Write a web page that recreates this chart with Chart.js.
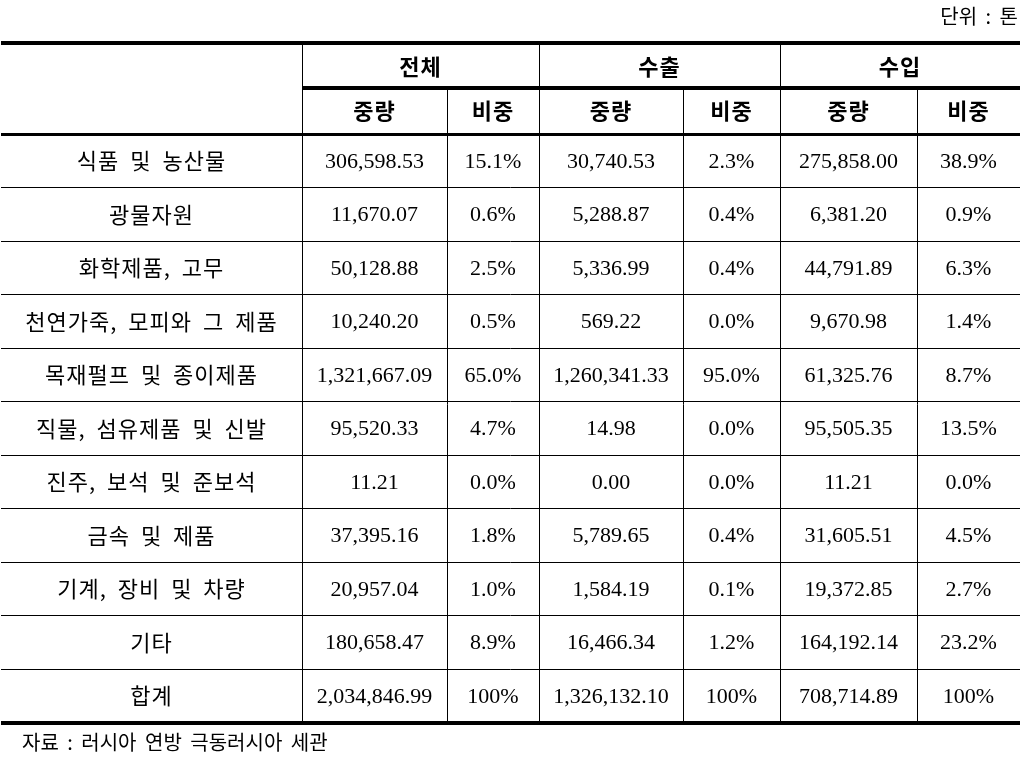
<!DOCTYPE html>
<html><head><meta charset="utf-8">
<script src="https://cdn.jsdelivr.net/npm/chart.js@4/dist/chart.umd.min.js"></script>
<style>html,body{margin:0;padding:0;background:#fff;}#wrap{width:1025px;height:766px;position:relative;}</style>
</head><body><div id="wrap"><canvas id="c" width="1025" height="766"></canvas></div>
<script>
const categories = ['식품 및 농산물','광물자원','화학제품, 고무','천연가죽, 모피와 그 제품','목재펄프 및 종이제품','직물, 섬유제품 및 신발','진주, 보석 및 준보석','금속 및 제품','기계, 장비 및 차량','기타','합계'];
const totalWeight = [306598.53, 11670.07, 50128.88, 10240.20, 1321667.09, 95520.33, 11.21, 37395.16, 20957.04, 180658.47, 2034846.99];
const totalShare = [15.1, 0.6, 2.5, 0.5, 65.0, 4.7, 0.0, 1.8, 1.0, 8.9, 100];
const exportWeight = [30740.53, 5288.87, 5336.99, 569.22, 1260341.33, 14.98, 0.00, 5789.65, 1584.19, 16466.34, 1326132.10];
const exportShare = [2.3, 0.4, 0.4, 0.0, 95.0, 0.0, 0.0, 0.4, 0.1, 1.2, 100];
const importWeight = [275858.00, 6381.20, 44791.89, 9670.98, 61325.76, 95505.35, 11.21, 31605.51, 19372.85, 164192.14, 708714.89];
const importShare = [38.9, 0.9, 6.3, 1.4, 8.7, 13.5, 0.0, 4.5, 2.7, 23.2, 100];
const groupHeaders = ['전체', '수출', '수입'];
const subHeaders = ['중량', '비중'];
const unitLabel = '단위 : 톤';
const sourceLabel = '자료 : 러시아 연방 극동러시아 세관';

// layout (x in pixel-like units on the x scale; y in row units on the y scale)
const colEdges = [1, 302, 447, 539, 683, 780, 917, 1020];
const ROW_H = 53.5, DATA_TOP = 134;
const yMin = -DATA_TOP / ROW_H, yMax = yMin + 766 / ROW_H;
const toRow = px => (px - DATA_TOP) / ROW_H;

const fmtW = v => v.toLocaleString('en-US', {minimumFractionDigits: 2, maximumFractionDigits: 2});
const fmtS = v => v === 100 ? '100%' : v.toFixed(1) + '%';

const columns = [
  {values: totalWeight, fmt: fmtW},
  {values: totalShare, fmt: fmtS},
  {values: exportWeight, fmt: fmtW},
  {values: exportShare, fmt: fmtS},
  {values: importWeight, fmt: fmtW},
  {values: importShare, fmt: fmtS}
];

const datasets = columns.map((c, ci) => ({
  label: 'col' + ci,
  data: c.values.map((v, ri) => ({x: (colEdges[ci + 1] + colEdges[ci + 2]) / 2, y: ri + 0.5})),
  pointRadius: 0, pointHoverRadius: 0, showLine: false
}));
datasets.unshift({
  label: 'category',
  data: categories.map((c, ri) => ({x: (colEdges[0] + colEdges[1]) / 2, y: ri + 0.5})),
  pointRadius: 0, pointHoverRadius: 0, showLine: false
});

const FONT_KR = '"Noto Sans CJK KR"';
const FONT_NUM = '"Liberation Serif", "Noto Sans CJK KR"';

const tablePlugin = {
  id: 'table',
  afterDatasetsDraw(chart) {
    const ctx = chart.ctx, xs = chart.scales.x, ys = chart.scales.y;
    const X = v => xs.getPixelForValue(v), Y = v => ys.getPixelForValue(v);
    ctx.save();
    ctx.strokeStyle = '#000';
    const hline = (x1, x2, yPx, w) => {
      ctx.lineWidth = w;
      let y = Y(toRow(yPx));
      if (w % 2 === 1) y = Math.floor(y) + 0.5; else y = Math.round(y);
      ctx.beginPath(); ctx.moveTo(X(x1), y); ctx.lineTo(X(x2), y); ctx.stroke();
    };
    const vline = (xv, y1, y2) => {
      ctx.lineWidth = 1;
      const x = Math.floor(X(xv)) + 0.5;
      ctx.beginPath(); ctx.moveTo(x, Y(y1)); ctx.lineTo(x, Y(y2)); ctx.stroke();
    };
    const topRow = toRow(45), midRow = toRow(88);
    vline(colEdges[1], topRow, toRow(721));
    [3, 5].forEach(i => vline(colEdges[i], topRow, toRow(721)));
    [2, 4, 6].forEach(i => vline(colEdges[i], midRow, toRow(721)));
    for (let r = 1; r < categories.length; r++) {
      hline(colEdges[0], colEdges[7], DATA_TOP + r * ROW_H, 1);
    }
    hline(colEdges[0], colEdges[7], 43, 4);
    hline(colEdges[1], colEdges[7], 88, 4);
    hline(colEdges[0], colEdges[7], 134.5, 3);
    hline(colEdges[0], colEdges[7], 723, 4);

    ctx.fillStyle = '#000';
    ctx.textBaseline = 'middle';
    ctx.textAlign = 'center';
    if ('wordSpacing' in ctx) ctx.wordSpacing = '5px';
    if ('letterSpacing' in ctx) ctx.letterSpacing = '1px';
    ctx.font = 'bold 22px ' + FONT_KR;
    groupHeaders.forEach((h, g) => {
      ctx.fillText(h, X((colEdges[1 + g * 2] + colEdges[3 + g * 2]) / 2), Y(toRow(67)));
    });
    for (let c = 0; c < 6; c++) {
      ctx.fillText(subHeaders[c % 2], X((colEdges[1 + c] + colEdges[2 + c]) / 2), Y(toRow(111)));
    }
    ctx.font = '22px ' + FONT_KR;
    chart.getDatasetMeta(0).data.forEach((pt, i) => {
      ctx.fillText(categories[i], pt.x, pt.y);
    });
    if ('wordSpacing' in ctx) ctx.wordSpacing = '0px';
    if ('letterSpacing' in ctx) ctx.letterSpacing = '0px';
    ctx.font = '22px ' + FONT_NUM;
    columns.forEach((c, ci) => {
      chart.getDatasetMeta(ci + 1).data.forEach((pt, i) => {
        ctx.fillText(c.fmt(c.values[i]), pt.x, pt.y + 1);
      });
    });
    if ('wordSpacing' in ctx) ctx.wordSpacing = '4px';
    ctx.font = '20px ' + FONT_KR;
    ctx.textAlign = 'right';
    ctx.fillText(unitLabel, X(1018), Y(toRow(16)));
    ctx.textAlign = 'left';
    ctx.fillText(sourceLabel, X(22), Y(toRow(742)));
    ctx.restore();
  }
};

new Chart(document.getElementById('c'), {
  type: 'scatter',
  data: {datasets},
  options: {
    responsive: false,
    animation: false,
    events: [],
    layout: {padding: 0},
    plugins: {legend: {display: false}, tooltip: {enabled: false}},
    scales: {
      x: {type: 'linear', min: 0, max: 1025, display: false},
      y: {type: 'linear', min: yMin, max: yMax, reverse: true, display: false}
    }
  },
  plugins: [tablePlugin]
});
</script>
</body></html>
